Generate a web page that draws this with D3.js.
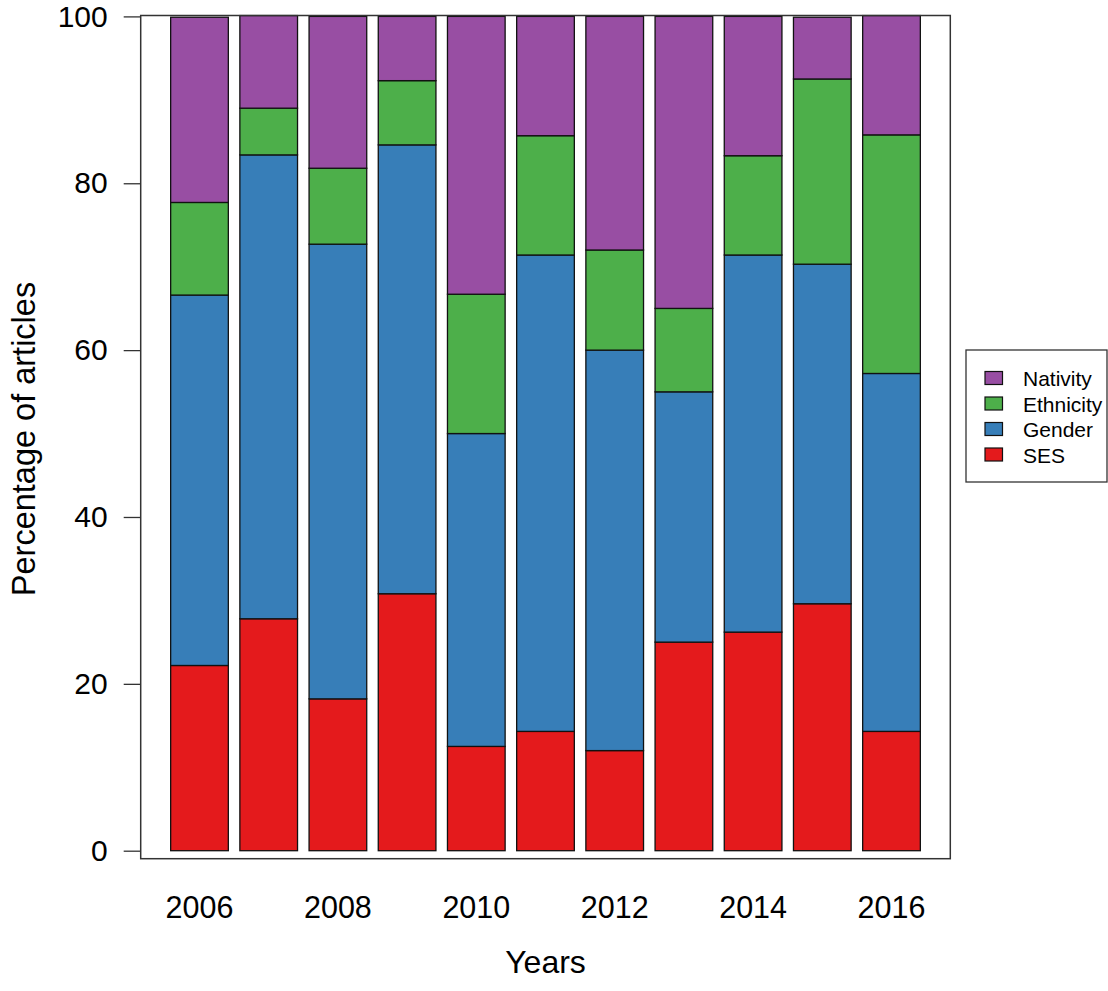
<!DOCTYPE html>
<html>
<head>
<meta charset="utf-8">
<script src="https://cdn.jsdelivr.net/npm/d3@7"></script>
<style>
  body { margin: 0; background: #fff; }
  text { font-family: "Liberation Sans", Arial, sans-serif; fill: #000; }
</style>
</head>
<body>
<div id="chart-container"></div>
<script>
  // Years on the x axis
  var years = ['2006', '2007', '2008', '2009', '2010', '2011', '2012', '2013', '2014', '2015', '2016'];
  // Percentage of articles per category
  var ses       = [22.2, 27.8, 18.2, 30.8, 12.5, 14.3, 12.0, 25.0, 26.2, 29.6, 14.3];
  var gender    = [44.4, 55.6, 54.5, 53.8, 37.5, 57.1, 48.0, 30.0, 45.2, 40.7, 42.9];
  var ethnicity = [11.1,  5.6,  9.1,  7.7, 16.7, 14.3, 12.0, 10.0, 11.9, 22.2, 28.6];
  var nativity  = [22.2, 11.1, 18.2,  7.7, 33.3, 14.3, 28.0, 35.0, 16.7,  7.4, 14.3];
  var yTicks = [0, 20, 40, 60, 80, 100];
  var xLabels = ['2006', '2008', '2010', '2012', '2014', '2016'];

  var keys = ['SES', 'Gender', 'Ethnicity', 'Nativity'];
  var colors = { SES: '#E41A1C', Gender: '#377EB8', Ethnicity: '#4DAF4A', Nativity: '#984EA3' };

  var table = years.map(function(y, i) {
    return { year: y, SES: ses[i], Gender: gender[i], Ethnicity: ethnicity[i], Nativity: nativity[i] };
  });

  // plot box in pixels
  var box = { left: 140.7, right: 950.3, top: 15.5, bottom: 858.7 };

  var svg = d3.select('#chart-container')
    .append('svg')
    .attr('width', 1108)
    .attr('height', 991);

  svg.append('rect').attr('width', 1108).attr('height', 991).attr('fill', '#fff');

  var xScale = d3.scaleBand()
    .domain(years)
    .range([box.left, box.right])
    .paddingInner(0.2 / 1.2)
    .paddingOuter(0.433);

  var yScale = d3.scaleLinear()
    .domain([0, 100])
    .range([850.7, 16.4]);

  var series = d3.stack().keys(keys)(table);

  svg.selectAll('g.layer')
    .data(series)
    .enter()
    .append('g')
    .attr('class', 'layer')
    .attr('fill', function(d) { return colors[d.key]; })
    .selectAll('rect')
    .data(function(d) { return d; })
    .enter()
    .append('rect')
    .attr('x', function(d) { return xScale(d.data.year); })
    .attr('y', function(d) { return yScale(d[1]); })
    .attr('width', xScale.bandwidth())
    .attr('height', function(d) { return yScale(d[0]) - yScale(d[1]); })
    .attr('stroke', '#111')
    .attr('stroke-width', 1.3);

  // box round the plot
  svg.append('rect')
    .attr('x', box.left)
    .attr('y', box.top)
    .attr('width', box.right - box.left)
    .attr('height', box.bottom - box.top)
    .attr('fill', 'none')
    .attr('stroke', '#333')
    .attr('stroke-width', 1.5);

  var yAxis = d3.axisLeft(yScale)
    .tickValues(yTicks)
    .tickSize(17)
    .tickPadding(16);

  var gy = svg.append('g')
    .attr('transform', 'translate(' + box.left + ',0)')
    .call(yAxis);
  gy.select('.domain').remove();
  gy.selectAll('.tick line').attr('stroke', '#333').attr('stroke-width', 1.3);
  gy.selectAll('.tick text').attr('font-size', 30).attr('font-family', '"Liberation Sans", Arial, sans-serif').attr('fill', '#000');

  // R drops every other year label where they would overlap
  var xAxis = d3.axisBottom(xScale)
    .tickSize(0)
    .tickPadding(38)
    .tickFormat(function(d) { return xLabels.indexOf(d) >= 0 ? d : ''; });

  var gx = svg.append('g')
    .attr('transform', 'translate(0,' + box.bottom + ')')
    .call(xAxis);
  gx.select('.domain').remove();
  gx.selectAll('.tick text').attr('font-size', 30.5).attr('font-family', '"Liberation Sans", Arial, sans-serif').attr('fill', '#000');

  svg.append('text')
    .attr('x', (box.left + box.right) / 2)
    .attr('y', 973)
    .attr('text-anchor', 'middle')
    .attr('font-size', 32)
    .text('Years');

  svg.append('text')
    .attr('transform', 'translate(35,439) rotate(-90)')
    .attr('text-anchor', 'middle')
    .attr('font-size', 32.5)
    .text('Percentage of articles');

  // legend, top entry first
  var legendKeys = keys.slice().reverse();
  var legend = svg.append('g').attr('transform', 'translate(966,350)');
  legend.append('rect')
    .attr('width', 141)
    .attr('height', 132)
    .attr('fill', '#fff')
    .attr('stroke', '#333')
    .attr('stroke-width', 1.3);

  var items = legend.selectAll('g.item')
    .data(legendKeys)
    .enter()
    .append('g')
    .attr('class', 'item')
    .attr('transform', function(d, i) { return 'translate(0,' + (28 + i * 25.5) + ')'; });

  items.append('rect')
    .attr('x', 19)
    .attr('y', -6.5)
    .attr('width', 17.5)
    .attr('height', 13)
    .attr('fill', function(d) { return colors[d]; })
    .attr('stroke', '#111')
    .attr('stroke-width', 1.2);

  items.append('text')
    .attr('x', 57)
    .attr('y', 8)
    .attr('font-size', 21)
    .text(function(d) { return d; });
</script>
</body>
</html>
